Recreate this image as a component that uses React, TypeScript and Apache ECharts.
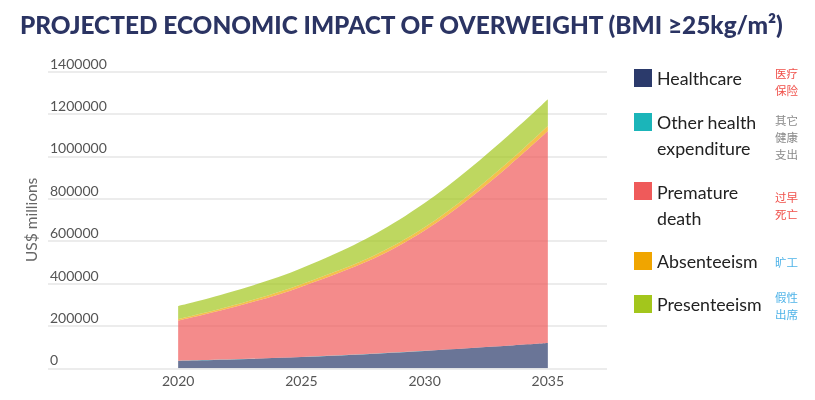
import React, { useEffect, useRef } from "react";
import * as echarts from "echarts";

const years = [2020, 2025, 2030, 2035];
const healthcare = [35000, 53000, 82000, 119000];
const otherHealth = [500, 500, 600, 700];
const prematureDeath = [189500, 331500, 567400, 999300];
const absenteeism = [7000, 11000, 15000, 24000];
const presenteeism = [62000, 76000, 115000, 126000];
const xTickLabels = [2020, 2025, 2030, 2035];
const yTickLabels = [0, 200000, 400000, 600000, 800000, 1000000, 1200000, 1400000];

const seriesNames = ["Healthcare", "Other health expenditure", "Premature death", "Absenteeism", "Presenteeism"];
const seriesColors = ["#2b3a6b", "#1bb5b9", "#ef5a5a", "#f0a500", "#a3c61c"];
const seriesValues = [healthcare, otherHealth, prematureDeath, absenteeism, presenteeism];

const legendLines = ["Healthcare", "Other health\nexpenditure", "Premature\ndeath", "Absenteeism", "Presenteeism"];
const legendCn = ["医疗\n保险", "其它\n健康\n支出", "过早\n死亡", "旷工", "假性\n出席"];
const legendCnColors = ["#f0504a", "#8a8a8a", "#f0504a", "#4fb3e8", "#4fb3e8"];

export default function App() {
  const ref = useRef<HTMLDivElement>(null);
  useEffect(() => {
    if (!ref.current) return;
    const chart = echarts.init(ref.current, null, { renderer: "svg" });

    const squareY = [69, 113, 182, 252, 295];
    const textTop = [65, 109, 179, 248, 291];
    const cnTop = [65, 112, 189, 254, 289];

    const graphics: any[] = [];
    seriesNames.forEach((_, i) => {
      graphics.push({
        type: "rect",
        shape: { x: 634, y: squareY[i], width: 18, height: 18 },
        style: { fill: seriesColors[i] },
      });
      graphics.push({
        type: "text",
        x: 657,
        y: textTop[i],
        style: {
          text: legendLines[i],
          fill: "#222",
          font: "17.8px Lato",
          lineHeight: 26,
          verticalAlign: "top",
          align: "left",
        },
      });
      graphics.push({
        type: "text",
        x: 775,
        y: cnTop[i],
        style: {
          text: legendCn[i],
          fill: legendCnColors[i],
          font: "11.5px 'Noto Sans CJK SC'",
          lineHeight: 16.8,
          verticalAlign: "top",
          align: "left",
        },
      });
    });

    chart.setOption({
      animation: false,
      title: {
        text: "PROJECTED ECONOMIC IMPACT OF OVERWEIGHT (BMI ≥25kg/m²)",
        left: 15,
        top: 7,
        textStyle: { fontFamily: "Lato", fontWeight: 900, fontSize: 24.4, color: "#2b3463" },
      },
      grid: { left: 48, right: 208, top: 71.5, bottom: 31.7, containLabel: false },
      xAxis: {
        type: "value",
        min: 2014.72,
        max: 2037.4,
        axisLine: { show: false },
        axisTick: { show: false },
        splitLine: { show: false },
        axisLabel: {
          color: "#555",
          fontFamily: "Lato",
          fontSize: 14,
          margin: 5,
          showMinLabel: false,
          showMaxLabel: false,
          formatter: (v: number) => (xTickLabels.indexOf(Math.round(v * 1000) / 1000) >= 0 ? String(v) : ""),
        },
      },
      yAxis: {
        type: "value",
        min: 0,
        max: 1400000,
        interval: 200000,
        name: "US$ millions",
        nameLocation: "middle",
        nameGap: 8,
        nameRotate: 90,
        nameTextStyle: { color: "#666", fontFamily: "Lato", fontSize: 15.5 },
        axisLine: { show: false },
        axisTick: { show: false },
        splitLine: { lineStyle: { color: "#ececec", width: 2 } },
        axisLabel: {
          inside: true,
          margin: 2,
          color: "#555",
          fontFamily: "Lato",
          fontSize: 14,
          verticalAlign: "bottom",
          lineHeight: 17,
          formatter: (v: number) => (yTickLabels.indexOf(v) >= 0 ? String(v) : ""),
        },
      },
      series: seriesNames.map((name, i) => ({
        name,
        type: "line",
        stack: "total",
        smooth: 0.4,
        showSymbol: false,
        symbol: "none",
        lineStyle: { width: 0 },
        areaStyle: { color: seriesColors[i], opacity: 0.7 },
        itemStyle: { color: seriesColors[i] },
        dimensions: ["value", "year"],
        encode: { x: 1, y: 0 },
        data: years.map((y, k) => [seriesValues[i][k], y]),
      })),
      graphic: graphics,
    });
    return () => chart.dispose();
  }, []);
  return <div ref={ref} style={{ position: "fixed", left: 0, top: 0, width: 815, height: 400 }} />;
}
